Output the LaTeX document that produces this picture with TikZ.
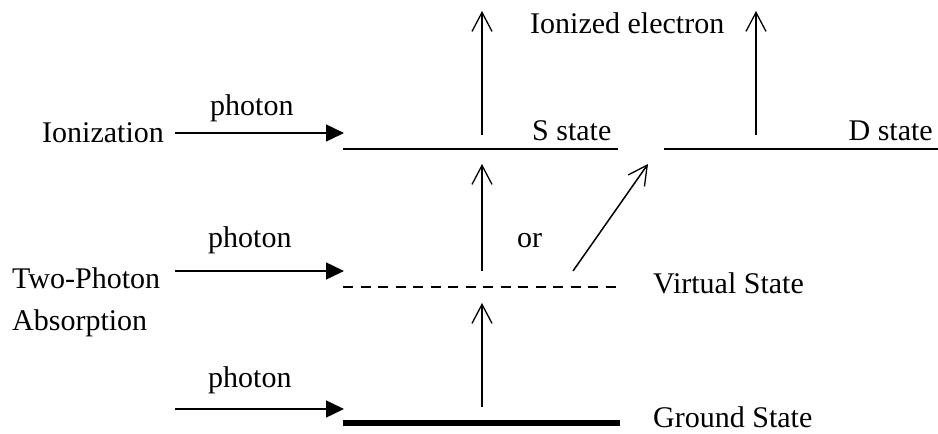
\documentclass[tikz,border=0pt]{standalone}
\usepackage{fontspec}
\setmainfont{Liberation Serif}
\usetikzlibrary{arrows.meta}
\begin{document}
\begin{tikzpicture}[x=1pt,y=-1pt,
  lbl/.style={font=\fontsize{30}{34}\selectfont, inner sep=0pt, anchor=base west},
  photonarrow/.style={line width=1.5pt, -{Triangle[length=18pt,width=17pt]}},
  jump/.style={line width=1.5pt, -{Straight Barb[length=19pt,width=20pt,line width=1.3pt]}},
  level/.style={line width=1.5pt},
]
\useasboundingbox (0,0) rectangle (938,434);
% level endpoints
\coordinate (s1) at (343,149); \coordinate (s2) at (618,149);
\coordinate (d1) at (664,149); \coordinate (d2) at (938,149);
\coordinate (v1) at (343,287); \coordinate (v2) at (620,287);
\coordinate (g1) at (343,423); \coordinate (g2) at (620,423);
% levels
\draw[level] (s1) -- (s2);
\draw[level] (d1) -- (d2);
\draw[level, dash pattern=on 10pt off 7.5pt] (v1) -- (v2);
\draw[line width=6pt] (g1) -- (g2);
% labels
\node[lbl] (ion) at (42,142) {Ionization};
\node[lbl] (ph1) at (210,115) {photon};
\node[lbl] (ie) at (530,33) {Ionized electron};
\node[lbl] (ss) at (532,140) {S state};
\node[lbl, anchor=base east] (ds) at (933,140) {D state};
\node[lbl] (or) at (517,247) {or};
\node[lbl] (vs) at (653,293) {Virtual State};
\node[lbl] (tp) at (12,288) {Two-Photon};
\node[lbl] (ab) at (12,330) {Absorption};
\node[lbl] (ph2) at (208,247) {photon};
\node[lbl] (ph3) at (208,387) {photon};
\node[lbl] (gs) at (653,427) {Ground State};
% photon arrows
\coordinate (pa1) at (175,133); \coordinate (pb1) at (344,133);
\coordinate (pa2) at (175,271); \coordinate (pb2) at (344,271);
\coordinate (pa3) at (175,409); \coordinate (pb3) at (344,409);
\draw[photonarrow] (pa1) -- (pb1);
\draw[photonarrow] (pa2) -- (pb2);
\draw[photonarrow] (pa3) -- (pb3);
% transitions
\coordinate (ja) at (482,407); \coordinate (jb) at (482,303);
\coordinate (jc) at (482,271); \coordinate (jd) at (482,164);
\coordinate (je) at (482,135); \coordinate (jf) at (482,11);
\coordinate (jg) at (573,271); \coordinate (jh) at (648,164);
\coordinate (ji) at (756,135); \coordinate (jj) at (756,11);
\draw[jump] (ja) -- (jb);
\draw[jump] (jc) -- (jd);
\draw[jump] (je) -- (jf);
\draw[jump] (jg) -- (jh);
\draw[jump] (ji) -- (jj);
\end{tikzpicture}
\end{document}
